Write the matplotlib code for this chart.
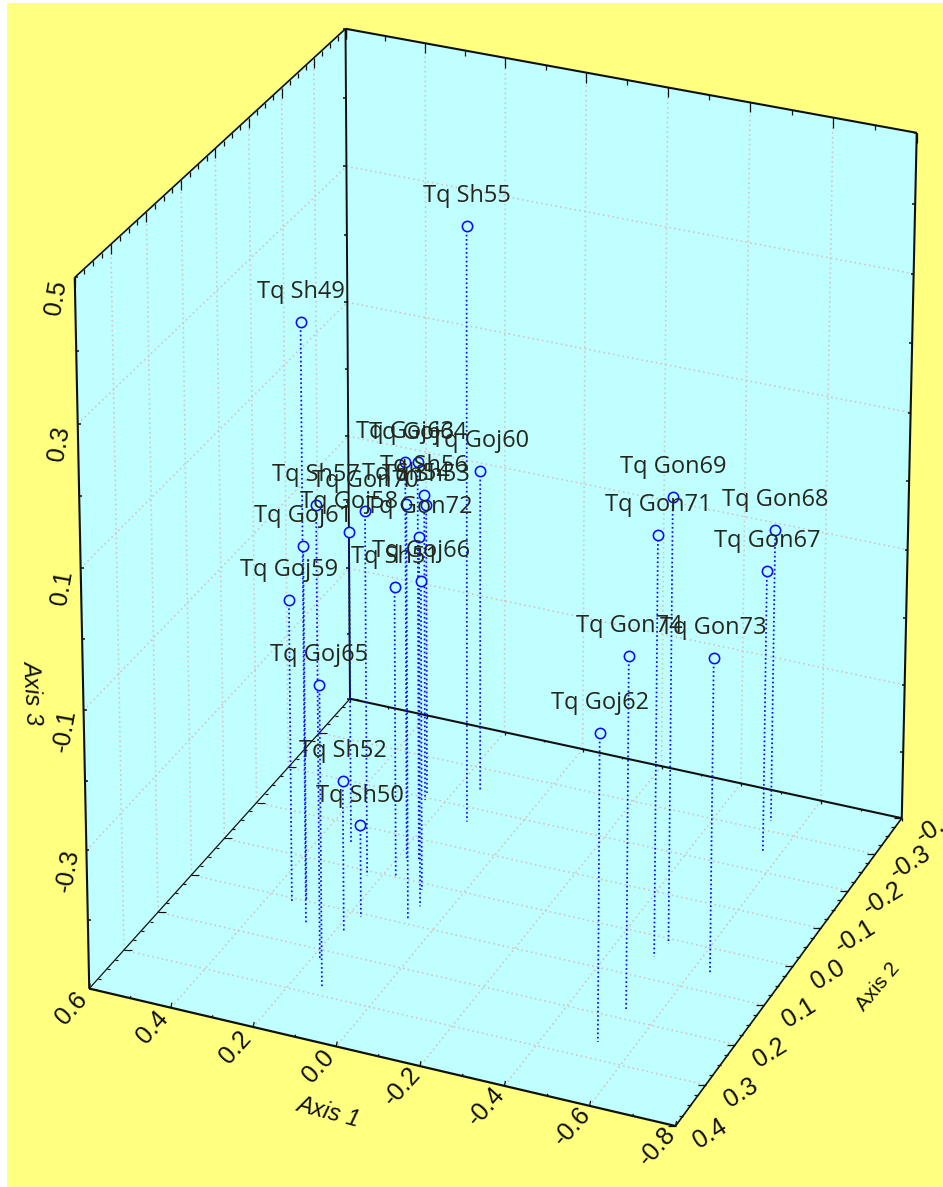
import numpy as np
import matplotlib
matplotlib.use("Agg")
import matplotlib.pyplot as plt
from matplotlib.patches import Polygon, Rectangle

labels = ["Tq Sh49","Tq Sh50","Tq Sh51","Tq Sh52","Tq Sh53","Tq Sh54","Tq Sh55","Tq Sh56","Tq Sh57",
          "Tq Goj58","Tq Goj59","Tq Goj60","Tq Goj61","Tq Goj62","Tq Goj63","Tq Goj64","Tq Goj65","Tq Goj66",
          "Tq Gon67","Tq Gon68","Tq Gon69","Tq Gon70","Tq Gon71","Tq Gon72","Tq Gon73","Tq Gon74"]
axis1 = [0.275,0.171,0.170,0.180,0.255,0.070,0.118,0.246,0.184,
         0.326,0.343,0.143,0.315,-0.519,0.180,0.152,0.131,0.092,
         -0.558,-0.526,-0.509,0.232,-0.500,0.067,-0.642,-0.525]
axis2 = [0.148,0.108,-0.001,0.150,-0.212,0.089,-0.165,-0.194,0.219,
         -0.057,0.107,-0.242,0.097,0.262,-0.049,-0.052,0.279,0.016,
         -0.249,-0.325,0.012,0.011,0.048,0.054,0.059,0.177]
axis3 = [0.361,-0.365,-0.075,-0.279,-0.070,0.101,0.371,-0.046,0.150,
         -0.042,-0.060,-0.021,0.016,-0.060,0.081,0.082,-0.067,-0.048,
         -0.086,-0.067,0.144,0.034,0.106,0.038,-0.044,0.005]

a1_lim = (0.6, -0.8)
a2_lim = (-0.4, 0.4)
a3_lim = (-0.5, 0.5)
a1_major = [0.4, 0.2, 0.0, -0.2, -0.4, -0.6]
a2_major = [-0.3, -0.2, -0.1, 0.0, 0.1, 0.2, 0.3]
a3_major = [-0.3, -0.1, 0.1, 0.3]
a1_ticklabels = [0.6, 0.4, 0.2, 0.0, -0.2, -0.4, -0.6, -0.8]
a2_ticklabels = [0.4, 0.3, 0.2, 0.1, 0.0, -0.1, -0.2, -0.3, -0.4]
a3_ticklabels = [0.5, 0.3, 0.1, -0.1, -0.3]

YELLOW = "#FFFF80"
CYAN = "#BFFFFF"
GRID = "#D6C4C4"
BLUE = "#0A0AFF"
INK = "#101010"

# camera of the 3D box, calibrated from its seven visible corners
CAL = [((0.6,0.4,-0.5),(89.5,989)),((0.6,-0.4,-0.5),(350,698.5)),((-0.8,-0.4,-0.5),(902,818)),
       ((-0.8,0.4,-0.5),(675,1126)),((0.6,0.4,0.5),(75,277)),((0.6,-0.4,0.5),(345,29)),((-0.8,-0.4,0.5),(917,133))]
rows = []
for (X, Y, Z), (u, v) in CAL:
    rows.append([X,Y,Z,1,0,0,0,0,-u*X,-u*Y,-u*Z,-u])
    rows.append([0,0,0,0,X,Y,Z,1,-v*X,-v*Y,-v*Z,-v])
P = np.linalg.svd(np.array(rows))[2][-1].reshape(3, 4)

def proj(a, b, c):
    h = P @ np.array([a, b, c, 1.0])
    return h[0] / h[2], h[1] / h[2]

plt.rcParams["font.family"] = ["Open Sans", "DejaVu Sans"]
fig = plt.figure(figsize=(9.43, 11.87), dpi=100, facecolor="white")
ax = fig.add_axes([0, 0, 1, 1])
ax.set_xlim(0, 943)
ax.set_ylim(1187, 0)
ax.axis("off")

ax.add_patch(Rectangle((7, 3), 936, 1184, fc=YELLOW, ec="none", zorder=0))
A0, A1 = a1_lim
B0, B1 = a2_lim
C0, C1 = a3_lim
ax.add_patch(Polygon([proj(A0,B1,C1), proj(A0,B0,C1), proj(A1,B0,C1), proj(A1,B0,C0), proj(A1,B1,C0), proj(A0,B1,C0)],
                     closed=True, fc=CYAN, ec="none", zorder=1))

def seg(p, q, **kw):
    ax.plot([p[0], q[0]], [p[1], q[1]], solid_capstyle="butt", **kw)

gk = dict(color=GRID, lw=1.2, ls=(0, (1, 1.9)), zorder=2)
for a in a1_major:
    seg(proj(a,B0,C0), proj(a,B0,C1), **gk)
    seg(proj(a,B0,C0), proj(a,B1,C0), **gk)
for b in a2_major:
    seg(proj(A0,b,C0), proj(A0,b,C1), **gk)
    seg(proj(A0,b,C0), proj(A1,b,C0), **gk)
for c in a3_major:
    seg(proj(A0,B1,c), proj(A0,B0,c), **gk)
    seg(proj(A0,B0,c), proj(A1,B0,c), **gk)

ek = dict(color=INK, zorder=3)
for p, q, w in [((A0,B1,C0),(A0,B1,C1),1.5), ((A0,B1,C1),(A0,B0,C1),1.2), ((A0,B0,C1),(A1,B0,C1),1.5),
                ((A1,B0,C1),(A1,B0,C0),1.5), ((A1,B0,C0),(A1,B1,C0),1.2), ((A1,B1,C0),(A0,B1,C0),1.6),
                ((A0,B0,C1),(A0,B0,C0),1.4), ((A0,B0,C0),(A1,B0,C0),1.5), ((A0,B0,C0),(A0,B1,C0),0.9)]:
    seg(proj(*p), proj(*q), lw=w, **ek)

def tick(x, y, dx, dy, w=0.9):
    seg((x, y), (x + dx, y + dy), lw=w, **ek)

# ticks on the top edges, hanging down
for b in np.arange(-0.4, 0.4001, 0.025):
    major = abs(b * 10 - round(b * 10)) < 1e-6
    x, y = proj(A0, b, C1)
    tick(x, y, 0, 10 if major else 5)
for a in np.arange(-0.8, 0.6001, 0.1):
    major = abs(a * 5 - round(a * 5)) < 1e-6
    x, y = proj(a, B0, C1)
    tick(x, y, 0, 10 if major else 5)
# ticks on the floor edges
for b in np.arange(-0.4, 0.4001, 0.025):
    major = abs(b * 10 - round(b * 10)) < 1e-6
    x, y = proj(A1, b, C0)
    tick(x, y, -8 if major else -4, 0)
    x, y = proj(A0, b, C0)
    tick(x, y, 8 if major else 3, 0, 0.8)
for a in np.arange(-0.8, 0.6001, 0.1):
    major = abs(a * 5 - round(a * 5)) < 1e-6
    x, y = proj(a, B1, C0)
    tick(x, y, 1, -5 if major else -2)
    x, y = proj(a, B0, C0)
    tick(x, y, 0, 3 if major else 1.5)
# ticks on the vertical edges
for c in np.arange(-0.5, 0.5001, 0.1):
    x, y = proj(A0, B1, c)
    tick(x, y, 3, 0, 1.1)
    x, y = proj(A0, B0, c)
    tick(x, y, -3, 0, 1.1)
    x, y = proj(A1, B0, c)
    tick(x, y, -3, 0, 1.1)

# stems, markers, point labels
for a, b, c, name in zip(axis1, axis2, axis3, labels):
    top = proj(a, b, c)
    base = proj(a, b, C0)
    ax.plot([top[0], base[0]], [top[1], base[1]], color=BLUE, lw=1.25, ls=(0, (1, 1.5)), zorder=4)
for a, b, c, name in zip(axis1, axis2, axis3, labels):
    top = proj(a, b, c)
    ax.plot([top[0]], [top[1]], "o", mfc=CYAN, mec=BLUE, ms=7.4, mew=1.15, zorder=5)
    ax.annotate(name, top, xytext=(0, 21.5), textcoords="offset points", ha="center", va="center",
                fontsize=17, color="#26261C", zorder=6)

tk = dict(ha="center", va="center", fontsize=18, family=["Liberation Sans"], color=INK, zorder=6)
for v in a3_ticklabels:
    x, y = proj(A0, B1, v)
    ax.text(x - 19, y + 20, f"{v:.1f}", rotation=80, **tk)
for v in a1_ticklabels:
    x, y = proj(v, B1, C0)
    ax.text(x - 18, y + 20, f"{v:.1f}", rotation=48, **tk)
for v in a2_ticklabels:
    x, y = proj(A1, v, C0)
    ax.text(x + 35, y + 8, f"{v:.1f}", rotation=32, **tk)

tt = dict(ha="center", va="center", family=["Liberation Sans"], color=INK, zorder=6)
ax.text(328, 1112, "Axis 1", rotation=-15, fontsize=17, style="italic", **tt)
ax.text(878, 987, "Axis 2", rotation=50, fontsize=15, **tt)
ax.text(32, 692, "Axis 3", rotation=-87, fontsize=17, style="italic", **tt)

fig.savefig("out.png", dpi=100, facecolor="white")
